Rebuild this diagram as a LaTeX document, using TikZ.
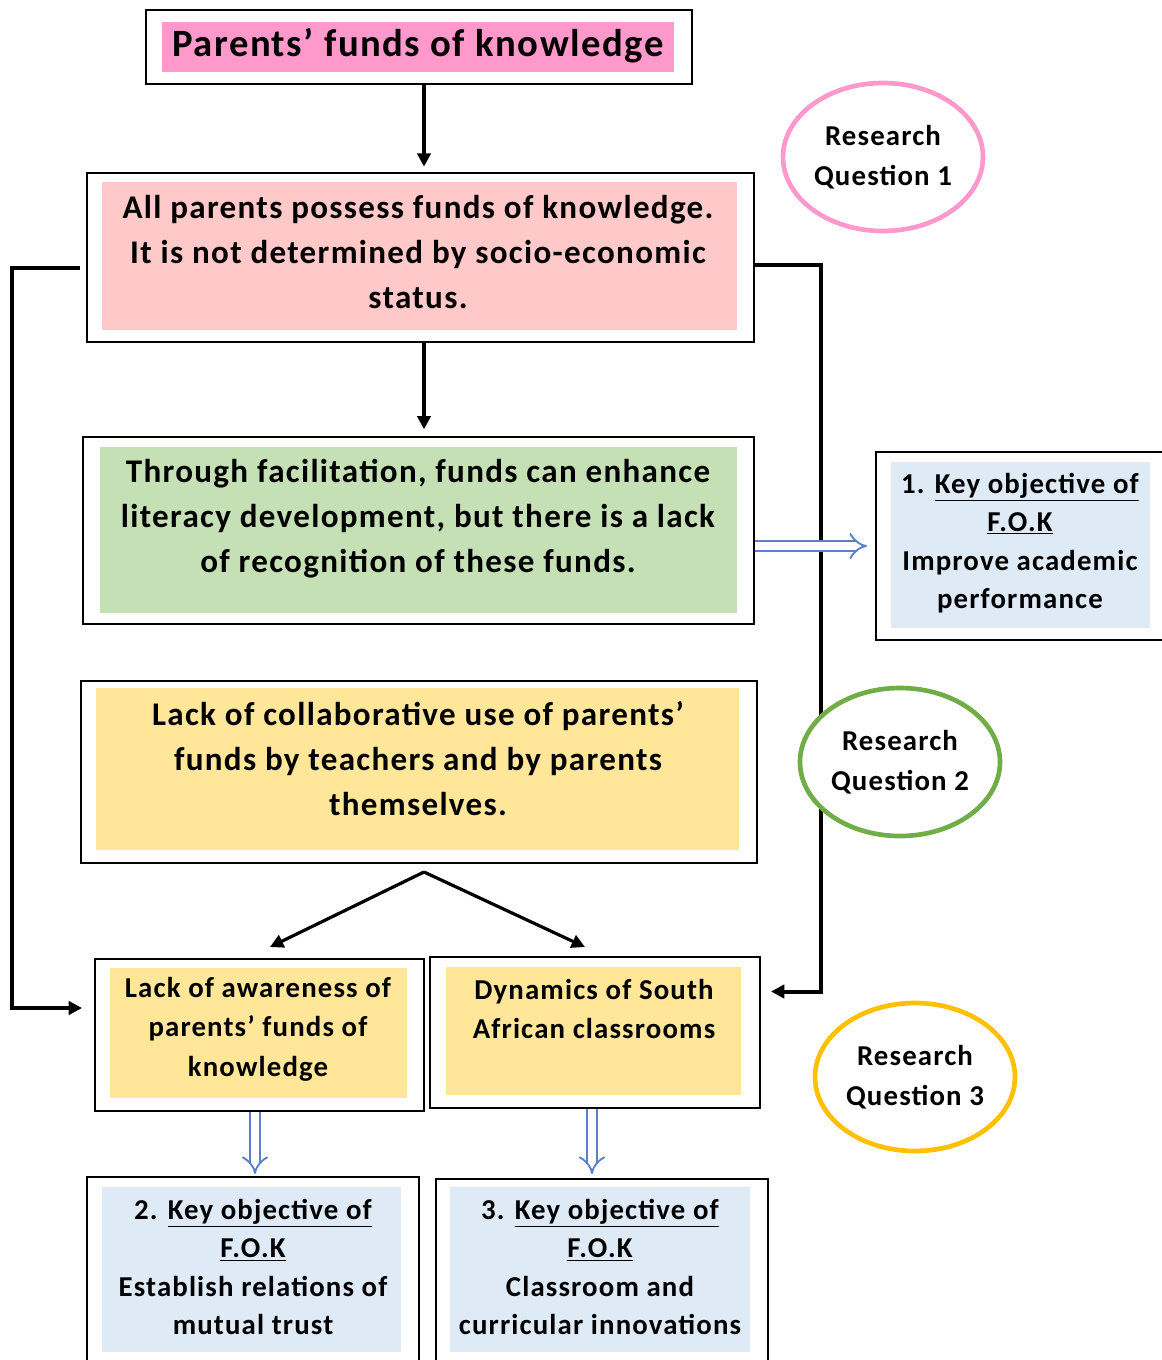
\documentclass[tikz,border=0pt]{standalone}
\usepackage{fontspec}
\setmainfont{Carlito}[LetterSpace=4]
\usetikzlibrary{fit,calc,arrows.meta,shapes.geometric}

\newcommand{\keyline}[1]{\underline{#1}}

\definecolor{titlepink}{HTML}{FF99CC}
\definecolor{softpink}{HTML}{FFC9C9}
\definecolor{softgreen}{HTML}{C5E0B4}
\definecolor{softyellow}{HTML}{FFE699}
\definecolor{softblue}{HTML}{DEEBF7}
\definecolor{rqpink}{HTML}{FF99CC}
\definecolor{rqgreen}{HTML}{70AD47}
\definecolor{rqgold}{HTML}{FFC000}
\definecolor{arrowblue}{HTML}{5B80C8}

\begin{document}
\begin{tikzpicture}[x=0.75pt,y=-0.75pt,
  frame/.style={draw=black, line width=1.5pt, fill=white, inner sep=0pt},
  panel/.style={draw=none, inner sep=0pt},
  bigtxt/.style={align=center, inner sep=0pt, font=\bfseries\fontsize{24.8}{33.75}\selectfont},
  midtxt/.style={align=center, inner sep=0pt, font=\bfseries\fontsize{21.6}{29.5}\selectfont},
  objtxt/.style={align=center, inner sep=0pt, font=\bfseries\fontsize{21.6}{28.9}\selectfont},
  rq/.style={ellipse, fill=white, line width=3.5pt, inner sep=0pt,
    minimum width=150pt, minimum height=111pt, align=center,
    font=\bfseries\fontsize{21.6}{30}\selectfont},
  link/.style={draw=black, line width=3pt, -{Triangle[length=10pt,width=10pt]}},
  split/.style={draw=black, line width=2.4pt, -{Triangle[length=10pt,width=10pt]}},
  hollow/.style={draw=arrowblue, line width=1.4pt, double=white,
    double distance=5.5pt, -{Implies}}]

\useasboundingbox[fill=white] (0,0) rectangle (1161,1360);

% title box
\node[frame, fit={(146,10) (692,84)}] (b1) {};
\node[panel, fill=titlepink, fit={(162,22) (674,72)}] (b1i) {};
\node[align=center, inner sep=0pt, font=\bfseries\fontsize{29}{32}\selectfont]
  at (418,46) {Parents’ funds of knowledge};

% statement boxes
\node[frame, fit={(87,173) (754,342)}] (b2) {};
\node[panel, fill=softpink, fit={(102,182) (737,330)}] (b2i) {};
\node[bigtxt] at (418,252) {All parents possess funds of knowledge.\\It is not determined by socio-economic\\status.};

\node[frame, fit={(83,437) (754,624)}] (b3) {};
\node[panel, fill=softgreen, fit={(100,447) (737,613)}] (b3i) {};
\node[bigtxt] at (418,519) {Through facilitation, funds can enhance\\literacy development, but there is a lack\\of recognition of these funds.};

\node[frame, fit={(81,681) (757,863)}] (b4) {};
\node[panel, fill=softyellow, fit={(96,688) (739,850)}] (b4i) {};
\node[bigtxt] at (418,759) {Lack of collaborative use of parents’\\funds by teachers and by parents\\themselves.};

% the two barriers
\node[frame, fit={(95,959) (424,1111)}] (b5) {};
\node[panel, fill=softyellow, fit={(110,968) (407,1098)}] (b5i) {};
\node[midtxt] at (258,1029) {Lack of awareness of\\parents’ funds of\\knowledge};

\node[frame, fit={(430,957) (760,1108)}] (b6) {};
\node[panel, fill=softyellow, fit={(446,967) (741,1095)}] (b6i) {};
\node[midtxt] at (594,1009) {Dynamics of South\\African classrooms};

% key objectives
\node[frame, fit={(876,452) (1175,640)}] (b9) {};
\node[panel, fill=softblue, fit={(891,462) (1150,628)}] (b9i) {};
\node[objtxt] at (1020,543) {1. \keyline{Key objective of}\\\keyline{F.O.K}\\Improve academic\\performance};

\node[frame, fit={(87,1177) (419,1375)}] (b7) {};
\node[panel, fill=softblue, fit={(102,1187) (401,1352)}] (b7i) {};
\node[objtxt] at (253,1267) {2. \keyline{Key objective of}\\\keyline{F.O.K}\\Establish relations of\\mutual trust};

\node[frame, fit={(436,1179) (768,1375)}] (b8) {};
\node[panel, fill=softblue, fit={(450,1187) (750,1352)}] (b8i) {};
\node[objtxt] at (600,1267) {3. \keyline{Key objective of}\\\keyline{F.O.K}\\Classroom and\\curricular innovations};

% vertical flow
\draw[link, shorten >=4pt] ($(b1.south)+(5,0)$) -- ($(b2.north)+(3.5,0)$);
\draw[link, shorten >=5pt] ($(b2.south)+(3.5,0)$) -- ($(b3.north)+(5.5,0)$);

\coordinate (fork) at ($(b4.south)+(5,8)$);
\draw[split] (fork) -- ($(b5.north)+(10.5,-11)$);
\draw[split] (fork) -- ($(b6.north)+(-10,-9)$);

% side loops
\coordinate (lstart) at ($(b2.west)+(-6,10.5)$);
\draw[link, line join=miter] (lstart) -- ++(-68,0) |- ($(b5.west)+(-12,-27)$);
\coordinate (rstart) at ($(b2.east)+(-2,7.5)$);
\draw[link, line join=miter] (rstart) -- ++(68,0) |- ($(b6.east)+(10,-41)$);

% hollow arrows to the objectives
\draw[hollow] ($(b3.east)+(0,15.5)$) -- ($(b9.west)+(-8,0)$);
\draw[hollow] ($(b5.south)+(-4.5,0)$) -- ($(b7.north)+(2,-2)$);
\draw[hollow] ($(b6.south)+(-3,0)$) -- ($(b8.north)+(-10,-4)$);

% research questions
\node[rq, draw=rqpink] (rq1) at (883,157) {Research\\Question 1};
\node[rq, draw=rqgreen] (rq2) at (900,762) {Research\\Question 2};
\node[rq, draw=rqgold] (rq3) at (915,1077) {Research\\Question 3};
\end{tikzpicture}
\end{document}
